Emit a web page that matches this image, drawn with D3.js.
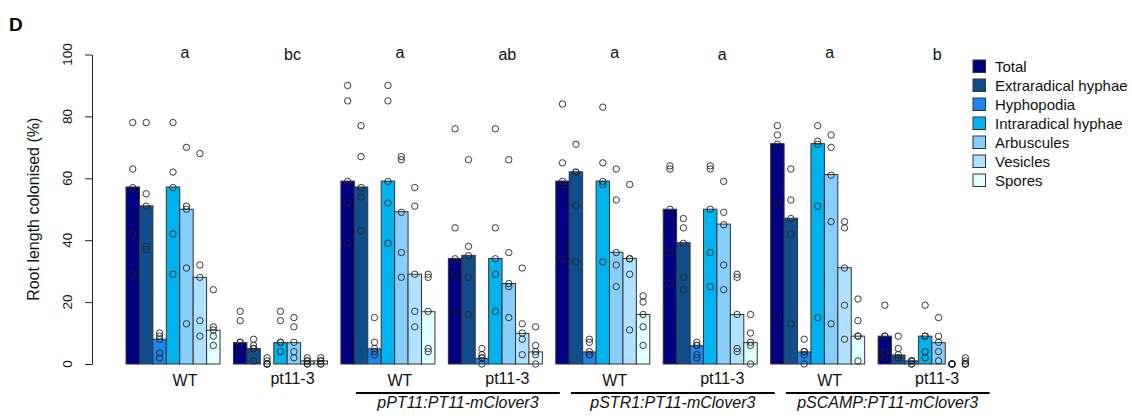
<!DOCTYPE html>
<html>
<head>
<meta charset="utf-8">
<script src="https://cdn.jsdelivr.net/npm/d3@7"></script>
<style>
  html, body { margin: 0; padding: 0; background: #fff; }
  svg { display: block; font-family: "Liberation Sans", Arial, sans-serif; }
</style>
</head>
<body>
<svg id="chart" width="1132" height="416"></svg>
<script>
// ---------------- data ----------------
const groups = ["WT", "pt11-3", "WT", "pt11-3", "WT", "pt11-3", "WT", "pt11-3"];
const letters = ["a", "bc", "a", "ab", "a", "a", "a", "b"];
const constructs = ["pPT11:PT11-mClover3", "pSTR1:PT11-mClover3", "pSCAMP:PT11-mClover3"];
const constructStartGroup = [2, 4, 6];
const seriesNames = ["Total", "Extraradical hyphae", "Hyphopodia", "Intraradical hyphae", "Arbuscules", "Vesicles", "Spores"];
const seriesColors = ["#000080", "#104E8B", "#1C86EE", "#00B2EE", "#87CEFA", "#B0E2FF", "#E0FFFF"];
const yTicks = [0, 20, 40, 60, 80, 100];

// bar heights (medians), one per group
const totalMed        = [57.2, 6.9, 59.1, 34.1, 59.1, 50.0, 71.2, 9.0];
const extraradicalMed = [51.1, 5.0, 57.2, 35.1, 62.1, 39.2, 47.1, 2.9];
const hyphopodiaMed   = [8.0, 0.0, 4.9, 1.8, 3.9, 5.9, 3.9, 1.0];
const intraradicalMed = [57.2, 6.9, 59.1, 34.1, 59.1, 50.0, 71.2, 9.0];
const arbusculesMed   = [50.0, 6.9, 49.2, 26.0, 36.1, 45.2, 61.2, 6.9];
const vesiclesMed     = [28.0, 1.0, 29.0, 9.9, 34.1, 16.0, 31.1, 0.0];
const sporesMed       = [10.9, 1.0, 16.9, 3.9, 16.0, 6.9, 9.0, 0.0];

// individual replicate points, per group
const totalPts = [[78,63,57,42,29],[17,14,7,7,4],[90,85,59,52,39],[76,44,34,29,17],[84,65,59,58,34],[64,63,50,36,26],[77,74,71,52,15],[19,9,9,4,2]];
const extraradicalPts = [[78,55,51,38,37],[8,6,5,5,1],[77,67,57,54,43],[66,38,35,28,16],[71,62,62,51,33],[47,44,39,28,24],[63,53,47,42,13],[9,5,3,2,2]];
const hyphopodiaPts = [[10,9,8,3.5,2],[2,1,0,0,0],[15,7,5,4,3],[5,3,2,2,0],[8,7,4,3,3],[7,6,6,3,2],[8,4,4,3,0],[1,1,1,0,0]];
const intraradicalPts = [[78,62,57,42,29],[17,14,7,7,4],[90,85,59,52,39],[76,44,34,29,17],[83,65,59,58,33],[64,63,50,36,25],[77,72,71,51,15],[19,9,9,4,2]];
const arbusculesPts = [[70,51,50,31,13],[15,12,7,4,2],[67,66,49,36,28],[66,36,26,25,15],[63,53,36,32,25],[59,49,45,32,24],[74,70,61,46,13],[15,9,7,4,1]];
const vesiclesPts = [[68,32,28,14,9],[2,1,1,0,0],[57,51,29,17,12],[31,13,10,8,3],[58,34,34,29,11],[29,28,16,5,4],[46,44,31,19,8],[0,0,0,0,0]];
const sporesPts = [[24,12,11,9,6],[2,1,1,0,0],[29,28,17,5,4],[12,6,4,3,0],[22,20,16,12,6],[16,10,7,6,0],[21,14,9,9,1],[2,1,0,0,0]];

const medians = [totalMed, extraradicalMed, hyphopodiaMed, intraradicalMed, arbusculesMed, vesiclesMed, sporesMed];
const points = [totalPts, extraradicalPts, hyphopodiaPts, intraradicalPts, arbusculesPts, vesiclesPts, sporesPts];

// ---------------- layout ----------------
const svg = d3.select("#chart");
const nS = seriesNames.length;           // bars per group
const step = nS + 1;                      // group + one-bar gap
const totalUnits = groups.length * step;
const x = d3.scaleLinear().domain([0, totalUnits]).range([112.6, 112.6 + totalUnits * 13.43]);
const y = d3.scaleLinear().domain([0, 100]).range([364, 54.5]);
const gStart = g => g * step + 1;
const labelOffset = 12;

// bars
const barData = [];
const ptData = [];
groups.forEach((gname, g) => {
  seriesNames.forEach((s, si) => {
    const u = gStart(g) + si;
    barData.push({u, v: medians[si][g], c: seriesColors[si]});
    points[si][g].forEach(v => ptData.push({u: u + 0.5, v}));
  });
});

svg.append("g").selectAll("rect").data(barData).join("rect")
  .attr("x", d => x(d.u))
  .attr("width", d => x(d.u + 1) - x(d.u))
  .attr("y", d => y(d.v))
  .attr("height", d => y(0) - y(d.v))
  .attr("fill", d => d.c)
  .attr("stroke", "#333")
  .attr("stroke-width", 1);

svg.append("g").selectAll("circle").data(ptData).join("circle")
  .attr("cx", d => x(d.u))
  .attr("cy", d => y(d.v))
  .attr("r", 3.2)
  .attr("fill", "none")
  .attr("stroke", "#222")
  .attr("stroke-width", 0.9);

// y axis
const yAxis = svg.append("g").attr("transform", "translate(92,0)")
  .call(d3.axisLeft(y).tickValues(yTicks).tickSize(7).tickSizeOuter(0).tickFormat(""));
yAxis.select(".domain").attr("stroke", "#222");
yAxis.selectAll(".tick line").attr("stroke", "#222");
svg.append("g").selectAll("text").data(yTicks).join("text")
  .attr("transform", d => `translate(67.5,${y(d)}) rotate(-90)`)
  .attr("text-anchor", "middle")
  .attr("dominant-baseline", "central")
  .attr("font-size", 13.5)
  .attr("fill", "#111")
  .text(d => d);

svg.append("text")
  .attr("transform", `translate(33,${(y(0) + y(100)) / 2}) rotate(-90)`)
  .attr("text-anchor", "middle")
  .attr("dominant-baseline", "central")
  .attr("font-size", 16)
  .attr("fill", "#111")
  .text("Root length colonised (%)");

// panel letter
svg.append("text").attr("x", 9).attr("y", 31)
  .attr("font-size", 19).attr("font-weight", "bold").text("D");

// significance letters & group labels
groups.forEach((gname, g) => {
  const cx = x(gStart(g) + nS / 2) + labelOffset;
  const isWT = g % 2 === 0;
  svg.append("text").attr("x", cx).attr("y", isWT ? 57.5 : 60)
    .attr("text-anchor", "middle").attr("font-size", 16).attr("fill", "#111")
    .text(letters[g]);
  svg.append("text").attr("x", cx).attr("y", isWT ? 385.5 : 383.5)
    .attr("text-anchor", "middle").attr("font-size", 16).attr("fill", "#111")
    .text(gname);
});

// construct underlines and labels
constructs.forEach((name, i) => {
  const s = gStart(constructStartGroup[i]);
  const x0 = x(s + 1.13), x1 = x(s + 16.3);
  svg.append("line").attr("x1", x0).attr("x2", x1).attr("y1", 393).attr("y2", 393)
    .attr("stroke", "#000").attr("stroke-width", 2);
  svg.append("text").attr("x", (x0 + x1) / 2).attr("y", 408)
    .attr("text-anchor", "middle").attr("font-size", 16).attr("font-style", "italic")
    .attr("fill", "#111").text(name);
});

// legend
const legend = svg.append("g").attr("transform", "translate(973,0)");
seriesNames.forEach((s, i) => {
  const cy = 66 + i * 19;
  legend.append("rect").attr("x", 0).attr("y", cy - 6).attr("width", 12.5).attr("height", 12.5)
    .attr("fill", seriesColors[i]).attr("stroke", "#333").attr("stroke-width", 1);
  legend.append("text").attr("x", 22).attr("y", cy).attr("dominant-baseline", "central")
    .attr("font-size", 15).attr("fill", "#111").text(s);
});
</script>
</body>
</html>
